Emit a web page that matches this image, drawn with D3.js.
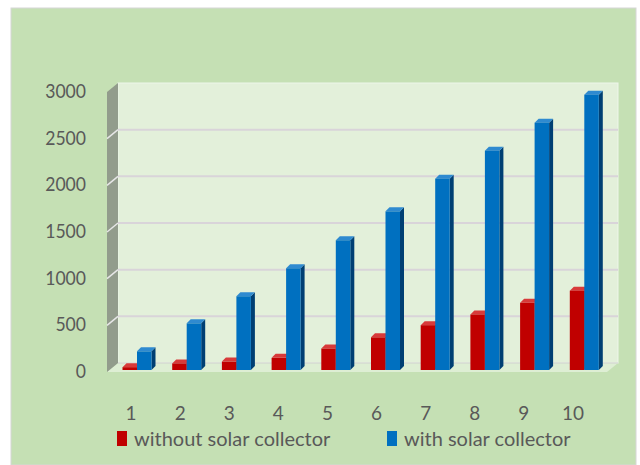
<!DOCTYPE html>
<html>
<head>
<meta charset="utf-8">
<script src="https://cdn.jsdelivr.net/npm/d3@7/dist/d3.min.js"></script>
<style>
html,body{margin:0;padding:0;background:#fff;}
svg{display:block;}
text{font-family:Lato, "Open Sans", sans-serif;fill:#595959;}
</style>
</head>
<body>
<svg id="chart" width="640" height="465"></svg>
<script>
const categories = ["1","2","3","4","5","6","7","8","9","10"];
const seriesNames = ["without solar collector","with solar collector"];
const withoutValues = [30, 70, 90, 130, 230, 350, 480, 595, 720, 850];
const withValues = [200, 500, 790, 1090, 1390, 1700, 2050, 2350, 2650, 2950];
const yTicks = [0, 500, 1000, 1500, 2000, 2500, 3000];

const colors = {
  "without solar collector": {front:"#c00000", side:"#7e0000", top:"#d83a3a"},
  "with solar collector": {front:"#0070c0", side:"#003f73", top:"#2f8ad0"}
};

const svg = d3.select("#chart");

// background panel
svg.append("rect").attr("x",11).attr("y",8).attr("width",625).attr("height",457)
  .attr("fill","#c5e0b4").attr("stroke","#d6d6d6").attr("stroke-width",1);

// depth offsets
const wallDX = 11, wallDY = -9;
const barDX = 4, barDY = -4;

// scales (front plane of the bars)
const y = d3.scaleLinear().domain([0,3000]).range([370,90]);
const yBack = v => y(v) - 7;   // back wall plane
const x = d3.scaleBand().domain(categories).range([110,607]).padding(0);
const xs = d3.scaleBand().domain(seriesNames).range([12.5,41.5]).padding(0);
const xLabel = d3.scaleBand().domain(categories).range([106.5,597.5]).padding(0);

const wallLeft = 118, wallRight = 618;
const wallTop = yBack(3000), wallBottom = yBack(0);

// back wall
svg.append("rect").attr("x",wallLeft).attr("y",wallTop).attr("width",wallRight-wallLeft)
  .attr("height",wallBottom-wallTop).attr("fill","#e3f0da").attr("stroke","#eef6ea").attr("stroke-width",1);

// floor
svg.append("path").attr("d",
  `M${wallLeft},${wallBottom}L${wallRight},${wallBottom}L${wallRight-wallDX},${wallBottom-wallDY}L${wallLeft-wallDX},${wallBottom-wallDY}Z`)
  .attr("fill","#deeed4");

// left side wall
svg.append("path").attr("d",
  `M${wallLeft},${wallTop}L${wallLeft},${wallBottom}L${wallLeft-wallDX},${wallBottom-wallDY}L${wallLeft-wallDX},${wallTop-wallDY}Z`)
  .attr("fill","#929c8c");

// gridlines on back wall and side wall
yTicks.forEach(t => {
  if (t === 0 || t === 3000) return;
  const yy = yBack(t);
  svg.append("line").attr("x1",wallLeft).attr("x2",wallRight).attr("y1",yy).attr("y2",yy)
    .attr("stroke","#d9d4d9").attr("stroke-width",2);
  svg.append("line").attr("x1",wallLeft).attr("x2",wallLeft-wallDX).attr("y1",yy).attr("y2",yy-wallDY)
    .attr("stroke","#e6e6e6").attr("stroke-width",1.5);
});
svg.append("line").attr("x1",wallLeft).attr("x2",wallRight).attr("y1",wallBottom).attr("y2",wallBottom)
  .attr("stroke","#cfcfcf").attr("stroke-width",1);

// y tick labels
svg.append("g").selectAll("text").data(yTicks).join("text")
  .attr("transform",d => `translate(86,${y(d)+8}) scale(0.88,1)`)
  .attr("text-anchor","end")
  .attr("font-size",20).text(d => d);

// bars
const data = [];
categories.forEach((c,i) => {
  data.push({cat:c, s:seriesNames[0], v:withoutValues[i]});
  data.push({cat:c, s:seriesNames[1], v:withValues[i]});
});
const bw = xs.bandwidth();
const gBars = svg.append("g");
data.forEach(d => {
  const x0 = x(d.cat) + xs(d.s);
  const x1 = x0 + bw;
  const y0 = y(0), y1 = y(d.v);
  const col = colors[d.s];
  const g = gBars.append("g");
  g.append("path").attr("d",`M${x1},${y1}L${x1+barDX},${y1+barDY}L${x1+barDX},${y0+barDY}L${x1},${y0}Z`)
    .attr("fill",col.side);
  g.append("path").attr("d",`M${x0},${y1}L${x0+barDX},${y1+barDY}L${x1+barDX},${y1+barDY}L${x1},${y1}Z`)
    .attr("fill",col.top);
  g.append("rect").attr("x",x0).attr("y",y1).attr("width",bw).attr("height",y0-y1)
    .attr("fill",col.front);
});

// category labels
svg.append("g").selectAll("text").data(categories).join("text")
  .attr("transform",d => `translate(${xLabel(d)+xLabel.bandwidth()/2},420) scale(0.95,1)`)
  .attr("text-anchor","middle").attr("font-size",20).text(d => d);

// legend
const legendX = [117, 387];
seriesNames.forEach((s,i) => {
  svg.append("rect").attr("x",legendX[i]).attr("y",431).attr("width",10).attr("height",15)
    .attr("fill",colors[s].front);
  svg.append("text").attr("x",legendX[i]+17).attr("y",446).attr("font-size",20).text(s);
});
</script>
</body>
</html>
